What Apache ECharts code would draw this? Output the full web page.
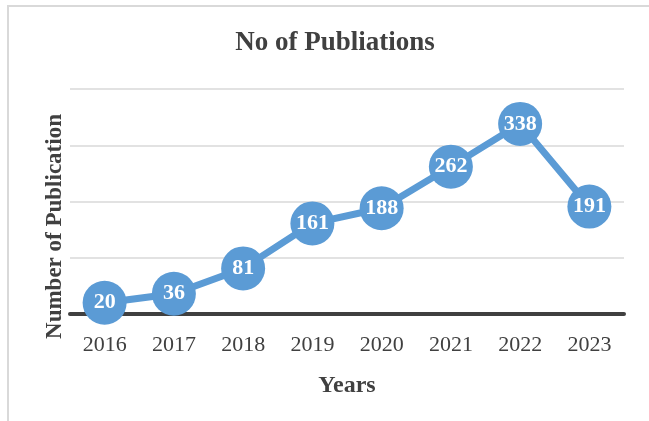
<!DOCTYPE html>
<html>
<head>
<meta charset="utf-8">
<script src="https://cdn.jsdelivr.net/npm/echarts@6/dist/echarts.min.js"></script>
<style>
html,body{margin:0;padding:0;background:#fff;}
#frame{position:absolute;left:7px;top:5px;width:700px;height:500px;border-top:2px solid #d9d9d9;border-left:2px solid #d9d9d9;}
#chart{position:absolute;left:0;top:0;width:649px;height:421px;}
</style>
</head>
<body>
<div id="frame"></div>
<div id="chart"></div>
<script>
const categories = ['2016','2017','2018','2019','2020','2021','2022','2023'];
const publications = [20, 36, 81, 161, 188, 262, 338, 191];
const yTicks = [0, 100, 200, 300, 400];

const chart = echarts.init(document.getElementById('chart'));
const serif = '"Liberation Serif","Times New Roman",serif';
chart.setOption({
  animation: false,
  title: {
    text: 'No of Publiations',
    left: 330, top: 25, textAlign: 'center',
    textStyle: {fontFamily: serif, fontWeight: 'bold', fontSize: 27, color: '#404040'}
  },
  grid: {left: 70, right: 25, top: 89, bottom: 107},
  xAxis: {
    type: 'category',
    data: categories,
    boundaryGap: true,
    name: 'Years',
    nameLocation: 'middle',
    nameGap: 60,
    nameTextStyle: {fontFamily: serif, fontWeight: 'bold', fontSize: 24, color: '#404040'},
    axisLine: {lineStyle: {color: '#404040', width: 4}},
    axisTick: {show: false},
    axisLabel: {fontFamily: serif, fontSize: 22, color: '#404040', margin: 20}
  },
  yAxis: {
    type: 'value',
    min: yTicks[0], max: yTicks[yTicks.length - 1], interval: 100,
    name: 'Number of Publication',
    nameLocation: 'middle',
    nameGap: 3,
    nameTextStyle: {fontFamily: serif, fontWeight: 'bold', fontSize: 23, color: '#404040', padding: [0, 50, 0, 0]},
    axisLabel: {show: false},
    axisLine: {show: false},
    axisTick: {show: false},
    splitLine: {lineStyle: {color: '#d9d9d9', width: 1.5}}
  },
  series: [{
    type: 'line',
    data: publications,
    symbol: 'circle',
    symbolSize: 44,
    lineStyle: {color: '#5b9bd5', width: 7},
    itemStyle: {color: '#5b9bd5'},
    label: {
      show: true, position: 'inside',
      fontFamily: serif, fontWeight: 'bold', fontSize: 22, color: '#ffffff'
    },
    z: 3
  }]
});
</script>
</body>
</html>
